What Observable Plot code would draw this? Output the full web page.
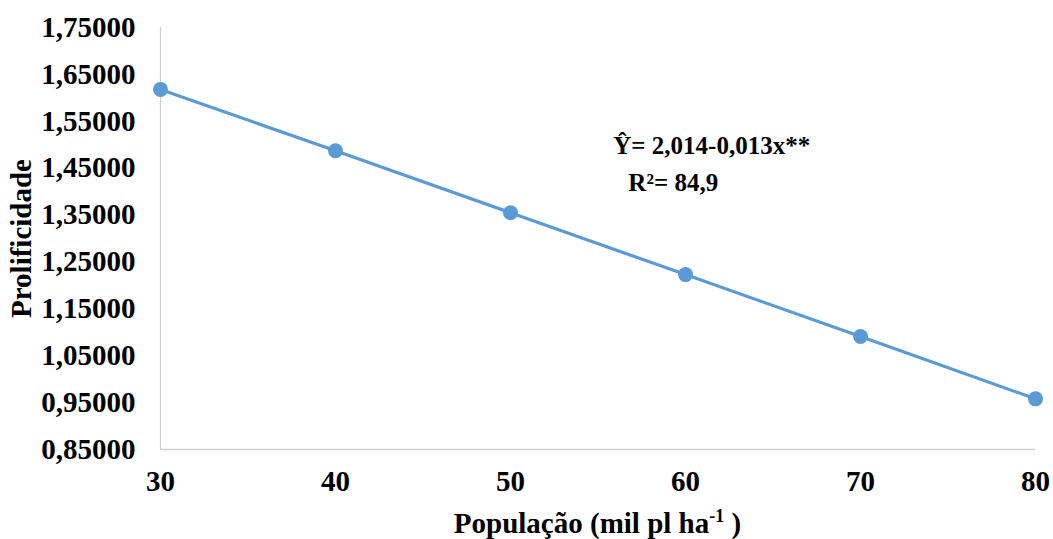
<!DOCTYPE html>
<html>
<head>
<meta charset="utf-8">
<script src="https://cdn.jsdelivr.net/npm/d3@7"></script>
<script src="https://cdn.jsdelivr.net/npm/@observablehq/plot@0.6"></script>
<style>
  html, body { margin: 0; padding: 0; background: #fff; }
  #chart svg { font-family: "Liberation Serif", "Times New Roman", serif; font-weight: bold; }
</style>
</head>
<body>
<div id="chart"></div>
<script>
const populacao = [30, 40, 50, 60, 70, 80];
const prolificidade = [1.618, 1.487, 1.355, 1.223, 1.091, 0.958];
const yTicks = [0.85, 0.95, 1.05, 1.15, 1.25, 1.35, 1.45, 1.55, 1.65, 1.75];
const xTicks = [30, 40, 50, 60, 70, 80];
const equationLines = ["Ŷ= 2,014-0,013x**", "R²= 84,9"];
const equationX = [61.5, 59.3];
const equationY = [1.497, 1.419];

const data = populacao.map((x, i) => ({x, y: prolificidade[i]}));
const notes = equationLines.map((t, i) => ({t, x: equationX[i], y: equationY[i]}));
const fmt = v => d3.format(".5f")(v).replace(".", ",");

const blue = "#5B9BD5";
const plot = Plot.plot({
  width: 1053,
  height: 539,
  marginLeft: 160,
  marginRight: 18,
  marginTop: 27,
  marginBottom: 90,
  style: {fontSize: "29px", color: "#000", background: "#fff"},
  x: {domain: [30, 80], ticks: xTicks, tickSize: 0, tickPadding: 21, label: null, tickFormat: d => String(d)},
  y: {domain: [0.85, 1.75], ticks: yTicks, tickSize: 0, tickPadding: 25, tickFormat: fmt,
      label: "Prolificidade", labelAnchor: "center", labelArrow: "none", labelOffset: 150},
  marks: [
    Plot.ruleX([30], {stroke: "#d0d0d0", strokeWidth: 1.3}),
    Plot.ruleY([0.85], {stroke: "#d0d0d0", strokeWidth: 1.3}),
    Plot.line(data, {x: "x", y: "y", stroke: blue, strokeWidth: 3.2}),
    Plot.dot(data, {x: "x", y: "y", r: 7.5, fill: blue, stroke: "none"}),
    Plot.text(notes, {x: "x", y: "y", text: "t", fontSize: 25, fontWeight: "bold", fill: "#000"})
  ]
});
document.getElementById("chart").appendChild(plot);

// x axis title with superscript
const svg = d3.select(plot);
const t = svg.append("text")
  .attr("x", (160 + 1035) / 2)
  .attr("y", 533)
  .attr("text-anchor", "middle")
  .attr("font-size", 29)
  .attr("font-weight", "bold")
  .attr("fill", "#000");
t.append("tspan").text("População (mil pl ha");
t.append("tspan").attr("dy", -11).attr("font-size", 18).text("-1");
t.append("tspan").attr("dy", 11).text(" )");
svg.selectAll("[aria-label='y-axis label'] text").attr("font-size", 29);
</script>
</body>
</html>
